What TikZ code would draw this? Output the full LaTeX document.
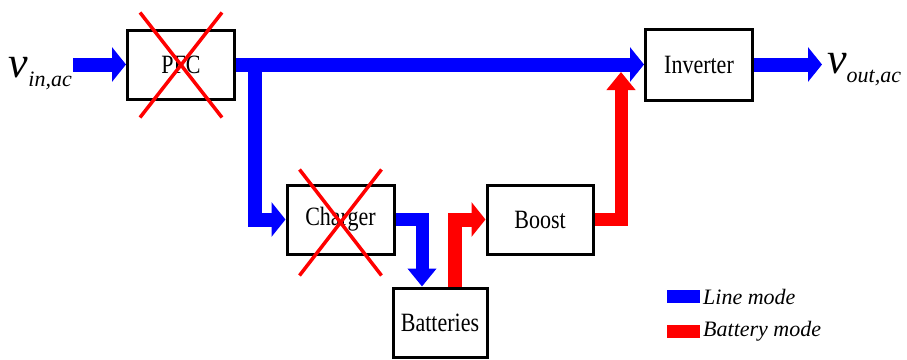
\documentclass[tikz,border=0pt]{standalone}
\usepackage{fontspec}
\setmainfont{Liberation Serif}
\usepackage{graphicx}
\usetikzlibrary{arrows.meta}

% big italic signal name with its subscript
\newcommand{\sig}[2]{{\fontsize{44}{44}\selectfont\itshape #1}\raisebox{-9pt}{\itshape #2}}
\newcommand{\blk}[1]{\scalebox{1}[1.2]{#1}}

\begin{document}
\begin{tikzpicture}[x=1pt, y=-1pt, font=\fontsize{22}{22}\selectfont, line join=miter, line cap=butt,
	block/.style={draw=black, line width=3pt, fill=white, minimum width=107pt, minimum height=69pt, inner sep=0pt},
	flow/.style={line width=14pt, -{Triangle[width=34pt,length=14pt]}},
	upflow/.style={line width=13pt, -{Triangle[width=28pt,length=18pt]}},
	line mode/.style={blue},
	battery mode/.style={red},
	cross/.style={red, line width=3.5pt}]
	\useasboundingbox (0,0) rectangle (907,359);
	% blocks
	\node[block] (pfc) at (181,64.5) {\blk{PFC}};
	\node[block, minimum height=71pt] (inv) at (699,64.5) {\blk{Inverter}};
	\node[block] (chg) at (340.5,219.5) {\blk{Charger}};
	\node[block, minimum width=106pt] (bst) at (540,219.5) {\blk{Boost}};
	\node[block, minimum width=94pt] (bat) at (440,322.5) {\blk{Batteries}};
	% signals
	\coordinate (in) at (73,64.5);
	\coordinate (out) at (822,64.5);
	\coordinate (tap) at (255,64.5);
	\coordinate (feed) at (621,72);
	\node[anchor=base east, inner sep=0pt] (vin) at (72,77) {\sig{v}{in,ac}};
	\node[anchor=base west, inner sep=0pt] (vout) at (827,73) {\sig{v}{out,ac}};
	% line mode
	\draw[flow, line mode] (in) -- (pfc.west);
	\draw[flow, line mode] (pfc.east) -- (inv.west);
	\draw[flow, line mode] (tap) |- (chg.west);
	\draw[upflow, line mode] (chg.east) -| ([xshift=-18pt]bat.north);
	\draw[flow, line mode] (inv.east) -- (out);
	% battery mode
	\draw[flow, battery mode] ([xshift=15pt]bat.north) |- (bst.west);
	\draw[upflow, battery mode] (bst.east) -| (feed);
	% disabled stages
	\draw[cross] (pfc.center) ++(-41,-52) -- ++(82,105) (pfc.center) ++(41,-52) -- ++(-82,105);
	\draw[cross] (chg.center) ++(-41,-50) -- ++(82,106) (chg.center) ++(41,-50) -- ++(-82,106);
	% legend
	\node[fill=blue, minimum width=33pt, minimum height=13pt, inner sep=0pt] (lkl) at (683.5,296.5) {};
	\node[fill=red, minimum width=33pt, minimum height=13pt, inner sep=0pt] (lkb) at (683.5,331) {};
	\node[anchor=west, inner sep=0pt, font=\fontsize{22}{22}\selectfont\itshape] (lline) at (703,296.5) {Line mode};
	\node[anchor=west, inner sep=0pt, font=\fontsize{22}{22}\selectfont\itshape] (lbat) at (703,331) {Battery mode};
\end{tikzpicture}
\end{document}
